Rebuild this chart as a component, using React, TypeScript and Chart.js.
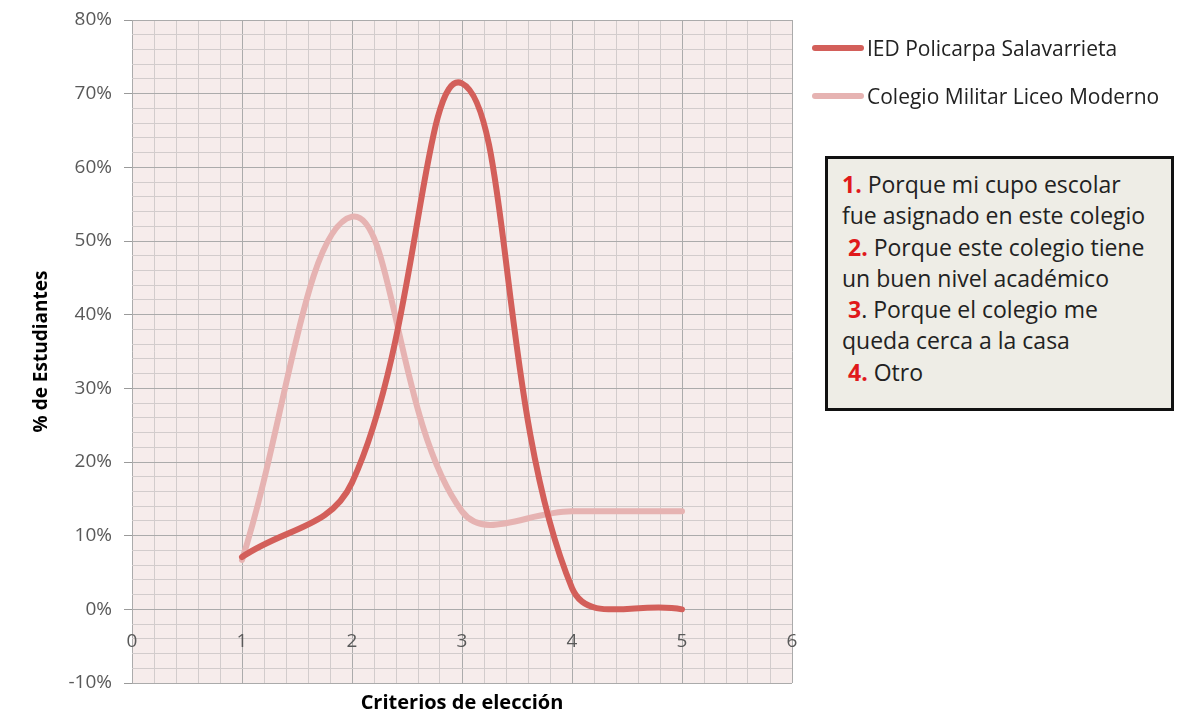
import React, { useEffect, useRef } from "react";
import { Chart, registerables } from "chart.js";
Chart.register(...registerables);

const criterios = [1, 2, 3, 4, 5];
const policarpa = [7.1, 17.2, 71.4, 2.9, 0];
const liceo = [6.7, 53.3, 13.3, 13.3, 13.3];
const seriesNames = ["IED Policarpa Salavarrieta", "Colegio Militar Liceo Moderno"];
const colors = ["#D35F5A", "#E6B3B2"];

const FONT = "'Open Sans', 'Noto Sans', sans-serif";

const isInt = (v: number, step: number) => Math.abs(v / step - Math.round(v / step)) < 1e-6;

const plotBg = {
  id: "plotBg",
  beforeDraw(chart: any) {
    const { ctx, chartArea: a } = chart;
    ctx.save();
    ctx.fillStyle = "#F6ECEB";
    ctx.fillRect(a.left, a.top, a.right - a.left, a.bottom - a.top);
    ctx.restore();
  },
};

export default function App() {
  const ref = useRef<HTMLCanvasElement>(null);
  useEffect(() => {
    document.body.style.margin = "0";
    const chart = new Chart(ref.current!, {
      type: "line",
      data: {
        datasets: [
          {
            label: seriesNames[0],
            data: criterios.map((x, i) => ({ x, y: policarpa[i] })),
            borderColor: colors[0],
            borderWidth: 6,
            tension: 0.4,
            pointRadius: 0,
            borderCapStyle: "round",
            borderJoinStyle: "round",
          },
          {
            label: seriesNames[1],
            data: criterios.map((x, i) => ({ x, y: liceo[i] })),
            borderColor: colors[1],
            borderWidth: 6,
            tension: 0.4,
            pointRadius: 0,
            borderCapStyle: "round",
            borderJoinStyle: "round",
          },
        ],
      },
      options: {
        animation: false,
        responsive: false,
        layout: { padding: { left: 30, top: 20, right: 403, bottom: 30 } },
        plugins: { legend: { display: false }, tooltip: { enabled: false } },
        scales: {
          x: {
            type: "linear",
            min: 0,
            max: 6,
            position: { y: 0 } as any,
            border: { display: false },
            afterFit: (s: any) => {
              s.paddingLeft = 0;
              s.paddingRight = 0;
              s.paddingTop = 0;
              s.paddingBottom = 0;
            },
            ticks: {
              stepSize: 0.2,
              autoSkip: false,
              maxRotation: 0,
              padding: 21,
              color: "#595959",
              font: { family: FONT, size: 19 },
              callback: (v: any) => (isInt(Number(v), 1) ? String(Math.round(Number(v))) : ""),
            },
            grid: {
              drawTicks: false,
              lineWidth: 1,
              color: (c: any) => (isInt(c.tick?.value ?? 0, 1) ? "#ABABAB" : "#D2CCCC"),
            },
          },
          y: {
            min: -10,
            max: 80,
            afterFit: (s: any) => {
              s.width = 102;
              s.paddingTop = 0;
              s.paddingBottom = 0;
            },
            border: { display: false },
            title: {
              display: true,
              text: "% de Estudiantes",
              color: "#000",
              font: { family: FONT, size: 19, weight: "bold" },
              padding: { top: 0, bottom: 8 },
            },
            ticks: {
              stepSize: 2,
              autoSkip: false,
              padding: 12,
              color: "#595959",
              font: { family: FONT, size: 19 },
              callback: (v: any) => (isInt(Number(v), 10) ? `${Math.round(Number(v))}%` : ""),
            },
            grid: {
              tickLength: 8,
              lineWidth: 1,
              color: (c: any) => (isInt(c.tick?.value ?? 0, 10) ? "#ABABAB" : "#D2CCCC"),
              tickColor: (c: any) => (isInt(c.tick?.value ?? 0, 10) ? "#9A9A9A" : "rgba(0,0,0,0)"),
            },
          },
        },
      },
      plugins: [plotBg],
    });
    return () => chart.destroy();
  }, []);

  const legendItem = (i: number, top: number) => (
    <div style={{ position: "absolute", left: 812, top, display: "flex", alignItems: "center" }}>
      <div style={{ width: 52, height: 6, borderRadius: 3, background: colors[i], marginRight: 3 }} />
      <span style={{ fontFamily: FONT, fontSize: 21, color: "#222" }}>{seriesNames[i]}</span>
    </div>
  );

  const red = { color: "#E0191B", fontWeight: "bold" as const };
  const lines: [string, string][] = [
    ["1.", " Porque mi cupo escolar"],
    ["", "fue asignado en este colegio"],
    [" 2.", " Porque este colegio tiene"],
    ["", "un buen nivel académico"],
    [" 3", ". Porque el colegio me"],
    ["", "queda cerca a la casa"],
    [" 4.", " Otro"],
  ];

  return (
    <div style={{ position: "relative", width: 1195, height: 713, background: "#fff", overflow: "hidden" }}>
      <canvas ref={ref} width={1195} height={713} style={{ position: "absolute", left: 0, top: 0 }} />
      <div
        style={{
          position: "absolute",
          left: 132,
          width: 660,
          top: 688,
          textAlign: "center",
          fontFamily: FONT,
          fontWeight: "bold",
          fontSize: 20,
          color: "#000",
        }}
      >
        Criterios de elección
      </div>
      {legendItem(0, 34)}
      {legendItem(1, 82)}
      <div
        style={{
          position: "absolute",
          left: 825,
          top: 156,
          width: 343,
          height: 249,
          border: "3px solid #111",
          background: "#EEEDE6",
          boxSizing: "content-box",
        }}
      >
        <div style={{ paddingLeft: 14, paddingTop: 10, fontFamily: FONT, fontSize: 23, lineHeight: "31.3px", color: "#222", whiteSpace: "pre" }}>
          {lines.map(([a, b], k) => (
            <div key={k}>
              <span style={red}>{a}</span>
              {b}
            </div>
          ))}
        </div>
      </div>
    </div>
  );
}
